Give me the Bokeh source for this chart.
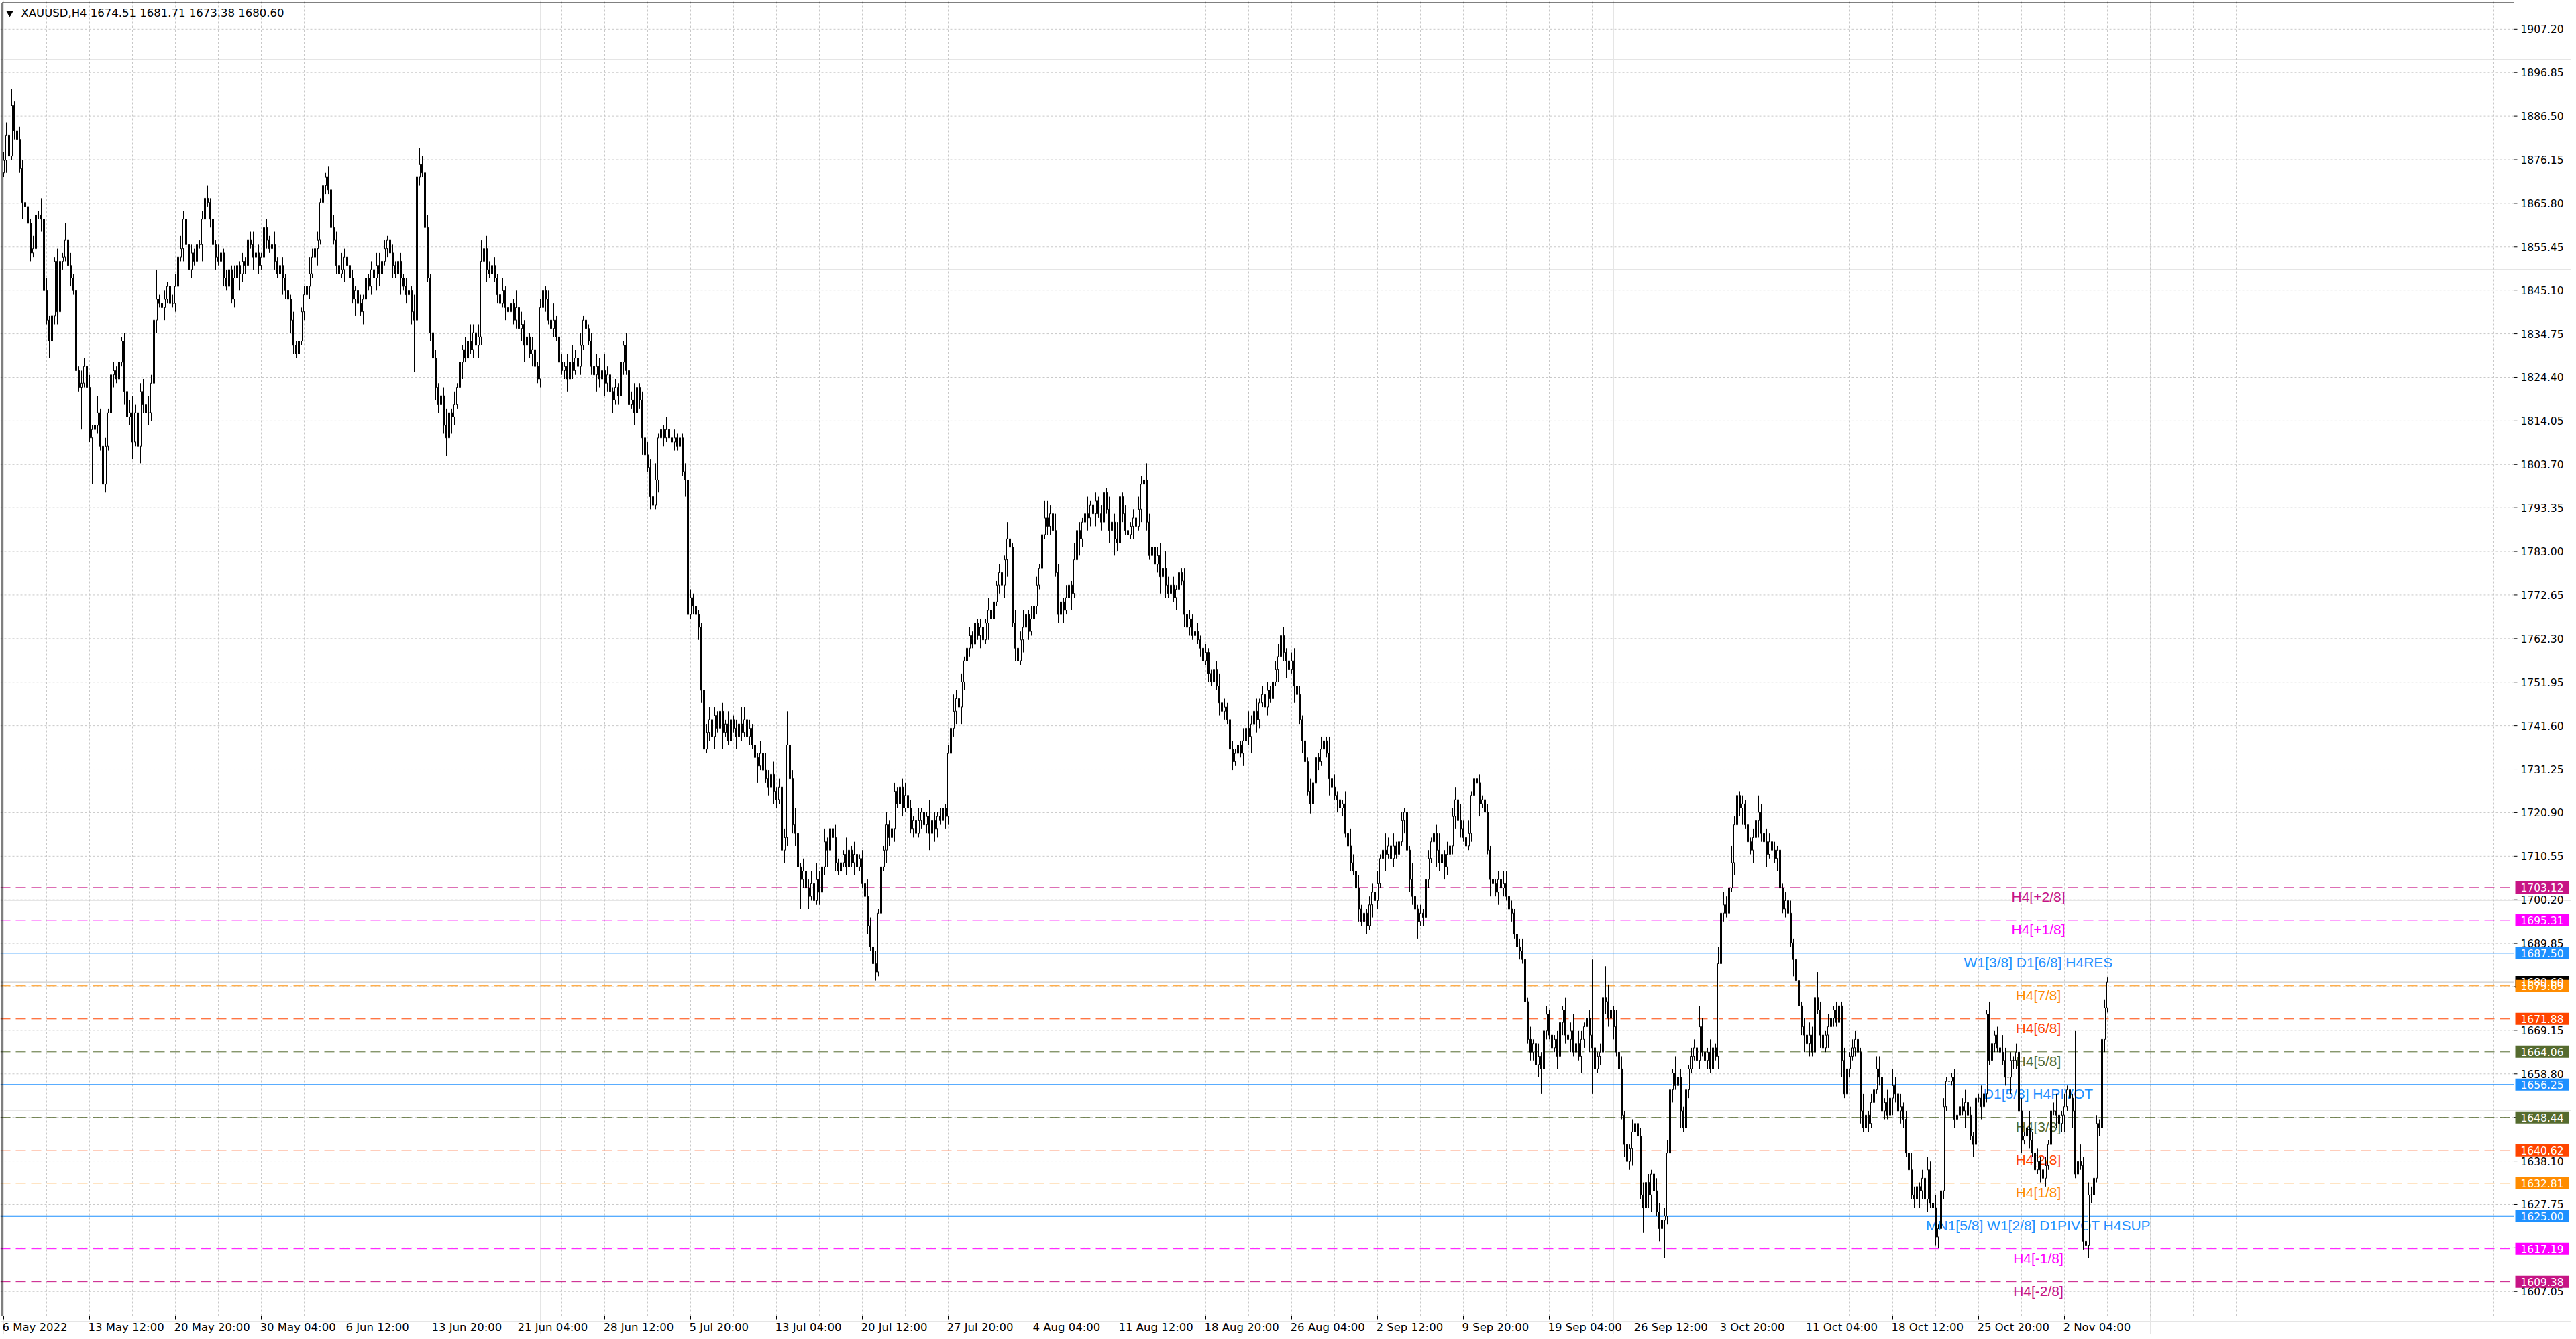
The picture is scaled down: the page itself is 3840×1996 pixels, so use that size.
from bokeh.plotting import figure
from bokeh.models import Range1d, ColumnDataSource
from bokeh.embed import file_html
from bokeh.resources import INLINE
from bokeh.core.properties import value

# ---------------- data ----------------
SYMBOL = "XAUUSD,H4"
FIRST_OPEN = 1873.0
CLOSE = [
    1876, 1882, 1877, 1889, 1883, 1881, 1874, 1866, 1865, 1861,
    1854, 1855, 1863, 1863, 1862, 1845, 1838, 1833, 1839, 1852,
    1840, 1852, 1853, 1857, 1851, 1848, 1845, 1826, 1822, 1823,
    1827, 1822, 1810, 1812, 1813, 1816, 1808, 1799, 1808, 1816,
    1825, 1826, 1824, 1828, 1833, 1821, 1815, 1816, 1809, 1816,
    1808, 1821, 1818, 1816, 1816, 1823, 1838, 1843, 1842, 1841,
    1843, 1846, 1842, 1842, 1846, 1853, 1855, 1862, 1856, 1850,
    1854, 1852, 1856, 1856, 1862, 1867, 1866, 1862, 1856, 1853,
    1852, 1854, 1848, 1846, 1850, 1843, 1848, 1851, 1849, 1852,
    1851, 1857, 1856, 1853, 1854, 1851, 1853, 1860, 1857, 1855,
    1856, 1852, 1849, 1851, 1848, 1845, 1843, 1838, 1832, 1830,
    1833, 1840, 1844, 1846, 1849, 1853, 1855, 1857, 1866, 1870,
    1872, 1869, 1860, 1857, 1851, 1849, 1850, 1853, 1851, 1848,
    1843, 1845, 1842, 1840, 1843, 1848, 1846, 1850, 1848, 1851,
    1849, 1852, 1855, 1857, 1854, 1851, 1849, 1852, 1848, 1846,
    1844, 1845, 1840, 1838, 1872, 1875, 1873, 1860, 1848, 1835,
    1829, 1822, 1818, 1820, 1813, 1810, 1816, 1815, 1818, 1822,
    1828, 1831, 1829, 1833, 1831, 1835, 1832, 1834, 1852, 1855,
    1850, 1849, 1851, 1848, 1844, 1842, 1845, 1841, 1840, 1842,
    1838, 1841, 1836, 1837, 1832, 1834, 1830, 1831, 1827, 1824,
    1841, 1845, 1843, 1838, 1836, 1838, 1834, 1828, 1826, 1827,
    1824, 1828, 1826, 1829, 1827, 1832, 1838, 1836, 1833, 1827,
    1825, 1827, 1824, 1826, 1823, 1825, 1821, 1819, 1822, 1820,
    1828, 1832, 1826, 1818, 1819, 1816, 1822, 1819, 1810, 1806,
    1803, 1796, 1794, 1800, 1810, 1812, 1810, 1812, 1810, 1809,
    1810, 1808, 1810, 1802, 1800, 1768, 1772, 1770, 1768, 1765,
    1750, 1736, 1740, 1743, 1739, 1744, 1741, 1745, 1740, 1742,
    1738, 1743, 1741, 1739, 1742, 1740, 1743, 1739, 1741, 1737,
    1734, 1732, 1735, 1731, 1729, 1727, 1730, 1726, 1724, 1727,
    1712, 1715, 1737, 1729, 1718, 1716, 1708, 1705, 1707, 1703,
    1701, 1704, 1700, 1705, 1702, 1708, 1714, 1712, 1717, 1715,
    1709, 1707, 1709, 1711, 1708, 1712, 1709, 1711, 1708, 1710,
    1704, 1701, 1694, 1689, 1685, 1683, 1697, 1708, 1712, 1718,
    1715, 1717, 1726, 1723, 1727, 1722, 1725, 1722, 1717, 1719,
    1716, 1719, 1721, 1718, 1720, 1716, 1719, 1717, 1720, 1719,
    1722, 1720, 1735, 1741, 1745, 1748, 1746, 1752, 1757, 1760,
    1763, 1761, 1766, 1763, 1765, 1762, 1766, 1769, 1767, 1771,
    1775, 1778, 1775, 1781, 1786, 1784, 1766, 1760, 1757, 1762,
    1765, 1768, 1764, 1767, 1770, 1775, 1779, 1787, 1791, 1789,
    1792, 1788, 1778, 1768, 1771, 1769, 1772, 1775, 1773, 1781,
    1788, 1786, 1790, 1792, 1791, 1794, 1792, 1795, 1792, 1790,
    1797, 1793, 1788, 1790, 1786, 1785, 1796, 1792, 1788, 1787,
    1789, 1791, 1789, 1793, 1799, 1800, 1790, 1782, 1784, 1780,
    1782, 1777, 1779, 1775, 1773, 1775, 1772, 1774, 1778, 1776,
    1768, 1765, 1767, 1763, 1764, 1762, 1760, 1757, 1759, 1754,
    1752, 1755, 1751, 1747, 1745, 1746, 1743, 1736, 1733, 1735,
    1737, 1735, 1738, 1741, 1739, 1742, 1745, 1743, 1747, 1749,
    1746, 1750, 1748, 1752, 1755, 1758, 1763, 1759, 1757, 1755,
    1757, 1751, 1749, 1743, 1738, 1733, 1726, 1723, 1728, 1734,
    1733, 1736, 1738, 1735, 1729, 1727, 1725, 1724, 1722, 1723,
    1716, 1713, 1709, 1707, 1703, 1698, 1695, 1697, 1694, 1699,
    1702, 1700, 1704, 1710, 1712, 1711, 1713, 1710, 1713, 1711,
    1714, 1719, 1721, 1712, 1705, 1701, 1698, 1695, 1697, 1696,
    1705, 1710, 1714, 1716, 1712, 1709, 1711, 1708, 1711, 1713,
    1720, 1724, 1719, 1717, 1715, 1713, 1716, 1725, 1729, 1728,
    1723, 1724, 1721, 1712, 1705, 1704, 1702, 1705, 1703, 1704,
    1701, 1698, 1697, 1692, 1689, 1688, 1686, 1676, 1667, 1664,
    1666, 1661, 1663, 1660, 1669, 1673, 1668, 1665, 1667, 1663,
    1671, 1674, 1668, 1667, 1669, 1664, 1666, 1663, 1667, 1670,
    1672, 1668, 1665, 1660, 1663, 1664, 1677, 1676, 1672, 1674,
    1670, 1664, 1660, 1649, 1642, 1638, 1641, 1645, 1647, 1644,
    1630, 1627, 1633, 1630, 1635, 1631, 1626, 1622, 1624, 1625,
    1640, 1655, 1659, 1656, 1658, 1650, 1646, 1655, 1660, 1663,
    1665, 1662, 1670, 1664, 1662, 1664, 1660, 1665, 1663, 1685,
    1697, 1699, 1697, 1703, 1709, 1718, 1725, 1722, 1723, 1718,
    1714, 1712, 1715, 1719, 1721, 1716, 1714, 1711, 1714, 1712,
    1710, 1712, 1703, 1698, 1700, 1697, 1690, 1686, 1681, 1675,
    1670, 1668, 1666, 1668, 1664, 1677, 1674, 1668, 1665, 1668,
    1670, 1672, 1674, 1671, 1675, 1662, 1654, 1660, 1663, 1665,
    1667, 1664, 1650, 1646, 1649, 1647, 1652, 1655, 1660, 1658,
    1650, 1652, 1649, 1653, 1656, 1654, 1650, 1651, 1648, 1640,
    1636, 1630, 1629, 1632, 1631, 1634, 1629, 1636, 1628, 1627,
    1620, 1622, 1631, 1651, 1657, 1657, 1658, 1648, 1649, 1651,
    1650, 1652, 1649, 1644, 1642, 1653, 1653, 1651, 1654, 1673,
    1662, 1666, 1668, 1665, 1664, 1662, 1658, 1658, 1662, 1662,
    1664, 1650, 1643, 1644, 1646, 1643, 1640, 1636, 1638, 1636,
    1634, 1637, 1642, 1650, 1650, 1649, 1647, 1649, 1651, 1655,
    1653, 1650, 1635, 1638, 1637, 1619, 1618, 1630, 1630, 1634,
    1647, 1646, 1667, 1674.51, 1680.60,
]
# wick lengths in dollars, one digit per bar
UPPER_WICK = (
    "2312143212 1321423121 3214231213 2131241321 4213121342 1231421312 2142313214 2131243121 3212413212 1423121321 "
    "2314213121 3121423213 1213214231 2142131213 3121421321 2314212131 1213242131 2131421312 3212143121 1423121321 "
    "2312141321 3142131212 1321423121 2131243121 3214121312 2131242131 1423121321 3212143121 2131421312 1213242131 "
    "2314213121 3121421321 2142131213 1321423121 2312143212 3121423213 2131241321 1231421312 4213121342 2142313214 "
    "3212413212 2131243121 1213214231 2314212131 3121421321 1423121321 2131421312 3214231213 2312141321 1321423121 "
    "3142131212 2131242131 3212143121 1213242131 2314213121 2142131213 3121423213 1231421312 2131241321 4213121342 "
    "1423121321 2312143212 3214121312 2142313214 1321423121 3121421321 2131243121 1213214231 3212413212 2314212131 "
    "2131421312 1423121321 3142131212 2312141321 3212143121 2131242131 1213242131 3121421321 2142131213 1321423121"
)
LOWER_WICK = (
    "1321231421 2131321412 3121421312 1213421321 2312131241 1421321312 3121241321 2131421213 1321312142 2413121321 "
    "1213421321 3121312412 2131241321 1421321213 3212131241 2131421312 1321231421 2413121321 3121241321 1213421321 "
    "2131321412 3121421312 1421321312 2312131241 1321312142 2131421213 3212131241 1213421321 2413121321 1321231421 "
    "3121312412 2131241321 1421321213 2131421312 3121241321 1321231421 2131321412 1213421321 3121421312 2312131241 "
    "1421321312 2131421213 1321312142 2413121321 3121312412 1213421321 2131241321 3212131241 1421321213 2131421312 "
    "1321231421 3121241321 2131321412 1213421321 2312131241 3121421312 1421321312 2131421213 1321312142 2413121321 "
    "3121312412 1213421321 2131241321 1421321213 3212131241 2131421312 1321231421 2413121321 3121241321 2131321412 "
    "1213421321 3121421312 2312131241 1421321312 1321312142 2131421213 3212131241 2413121321 1213421321 3121312412"
)
HIGH_OVERRIDE = {2: 1890, 3: 1893, 57: 1850, 121: 1874.5, 155: 1879, 178: 1857, 292: 1745,
                 334: 1739.5, 375: 1788, 389: 1795, 410: 1807, 425: 1802, 476: 1765.5,
                 548: 1735, 592: 1686, 597: 1684.4, 632: 1675, 646: 1729.5, 676: 1683,
                 699: 1663, 725: 1670.7, 739: 1674, 772: 1669, 784: 1681.71}
LOW_OVERRIDE = {29: 1812, 33: 1799, 37: 1787, 153: 1825.6, 165: 1805.8, 242: 1785, 297: 1698,
                325: 1681, 487: 1720.7, 507: 1688.7, 527: 1691, 573: 1654, 592: 1654,
                611: 1621, 619: 1615, 694: 1640.6, 721: 1617.4, 776: 1616.5, 784: 1673.38}
LAST_OPEN = 1674.51

PRICE_TICKS = [1907.20, 1896.85, 1886.50, 1876.15, 1865.80, 1855.45, 1845.10, 1834.75, 1824.40,
               1814.05, 1803.70, 1793.35, 1783.00, 1772.65, 1762.30, 1751.95, 1741.60, 1731.25,
               1720.90, 1710.55, 1700.20, 1689.85, 1679.50, 1669.15, 1658.80, 1648.45, 1638.10,
               1627.75, 1617.40, 1607.05]
TIME_TICK_BARS = [0, 32, 64, 96, 128, 160, 192, 224, 256, 288, 320, 352, 384, 416, 448, 480,
                  512, 544, 576, 608, 640, 672, 704, 736, 768]
TIME_TICK_LABELS = ["6 May 2022", "13 May 12:00", "20 May 20:00", "30 May 04:00", "6 Jun 12:00",
                    "13 Jun 20:00", "21 Jun 04:00", "28 Jun 12:00", "5 Jul 20:00", "13 Jul 04:00",
                    "20 Jul 12:00", "27 Jul 20:00", "4 Aug 04:00", "11 Aug 12:00", "18 Aug 20:00",
                    "26 Aug 04:00", "2 Sep 12:00", "9 Sep 20:00", "19 Sep 04:00", "26 Sep 12:00",
                    "3 Oct 20:00", "11 Oct 04:00", "18 Oct 12:00", "25 Oct 20:00", "2 Nov 04:00"]

LEVEL_PRICES = [1703.12, 1695.31, 1687.50, 1679.69, 1671.88, 1664.06, 1656.25, 1648.44,
                1640.62, 1632.81, 1625.00, 1617.19, 1609.38]
LEVEL_NAMES = ["H4[+2/8]", "H4[+1/8]", "W1[3/8] D1[6/8] H4RES", "H4[7/8]", "H4[6/8]", "H4[5/8]",
               "D1[5/8] H4PIVOT", "H4[3/8]", "H4[2/8]", "H4[1/8]",
               "MN1[5/8] W1[2/8] D1PIVOT H4SUP", "H4[-1/8]", "H4[-2/8]"]
LEVEL_COLORS = ["#C71585", "#FF00FF", "#1E90FF", "#FF8C00", "#FF4500", "#556B2F", "#1E90FF",
                "#556B2F", "#FF4500", "#FF8C00", "#1E90FF", "#FF00FF", "#C71585"]
LEVEL_SOLID = [False, False, True, False, False, False, True, False, False, False, True, False, False]
LEVEL_WIDTH = [1, 1, 1, 1, 1, 1, 1, 1, 1, 1, 2, 1, 1]

# ---------------- layout ----------------
W, H = 3832, 1988
PX_PER_BAR = 4.0
PX_PER_USD = 6.27
X0 = -1.25
X1 = X0 + W / PX_PER_BAR
Y1 = 1914.03
Y0 = Y1 - H / PX_PER_USD
AXIS_X = 935.5          # right price scale border (bar units)
AXIS_Y = 1601.27        # bottom time scale border (price units)
LABEL_X = 758.25        # centre of level texts
TAG_X = 946.0
TICK_TEXT_X = 938.0

n = len(CLOSE)
up = [int(c) for c in UPPER_WICK.replace(" ", "")][:n]
dn = [int(c) for c in LOWER_WICK.replace(" ", "")][:n]
opens = [FIRST_OPEN] + CLOSE[:-1]
opens[-1] = LAST_OPEN
highs = [max(o, c) + u for o, c, u in zip(opens, CLOSE, up)]
lows = [min(o, c) - d for o, c, d in zip(opens, CLOSE, dn)]
for k, v in HIGH_OVERRIDE.items():
    highs[k] = v
for k, v in LOW_OVERRIDE.items():
    lows[k] = v
idx = list(range(n))

bull = [i for i in idx if CLOSE[i] >= opens[i]]
bear = [i for i in idx if CLOSE[i] < opens[i]]
src_bull = ColumnDataSource(dict(x=bull, top=[CLOSE[i] for i in bull], bottom=[opens[i] for i in bull]))
src_bear = ColumnDataSource(dict(x=bear, top=[opens[i] for i in bear], bottom=[CLOSE[i] for i in bear]))
src_wick = ColumnDataSource(dict(x=idx, hi=highs, lo=lows))

p = figure(width=W, height=H, x_range=Range1d(X0, X1), y_range=Range1d(Y0, Y1),
           output_backend="svg", toolbar_location=None, x_axis_location=None,
           y_axis_location=None, min_border=0)
p.outline_line_color = None
p.background_fill_color = "white"
p.border_fill_color = "white"

GRID = "#C8C8C8"
# horizontal grid
p.segment(x0=[X0] * len(PRICE_TICKS), y0=PRICE_TICKS, x1=[AXIS_X] * len(PRICE_TICKS), y1=PRICE_TICKS,
          line_color=GRID, line_dash="3 3", line_width=1)
# vertical grid
vg = list(range(16, int(AXIS_X), 16))
p.segment(x0=vg, y0=[AXIS_Y] * len(vg), x1=vg, y1=[Y1] * len(vg),
          line_color=GRID, line_dash="3 3", line_width=1)

# level lines
for pr, col, solid, lw in zip(LEVEL_PRICES, LEVEL_COLORS, LEVEL_SOLID, LEVEL_WIDTH):
    p.segment(x0=[X0], y0=[pr], x1=[AXIS_X], y1=[pr], line_color=col, line_width=lw,
              line_dash="solid" if solid else "15 8")

# level texts
p.text(x=[LABEL_X] * len(LEVEL_PRICES), y=LEVEL_PRICES, text=LEVEL_NAMES, text_color=LEVEL_COLORS,
       text_align="center", text_baseline="top", y_offset=2,
       text_font=value("Liberation Sans"), text_font_size="21px")

# bid line
p.segment(x0=[X0], y0=[CLOSE[-1]], x1=[AXIS_X], y1=[CLOSE[-1]], line_color="#C0C0C0", line_width=1)

# candles
p.segment(x0="x", y0="lo", x1="x", y1="hi", source=src_wick, line_color="black", line_width=1)
p.vbar(x="x", top="top", bottom="bottom", width=0.5, source=src_bull,
       fill_color="white", line_color="black", line_width=1)
p.vbar(x="x", top="top", bottom="bottom", width=0.5, source=src_bear,
       fill_color="black", line_color="black", line_width=1)

# frame borders
TOP_Y = Y1 - 3.5 / PX_PER_USD
LEFT_X = X0 + 2.5 / PX_PER_BAR
p.segment(x0=[LEFT_X, LEFT_X, AXIS_X, LEFT_X], y0=[TOP_Y, AXIS_Y, AXIS_Y, AXIS_Y],
          x1=[AXIS_X, LEFT_X, AXIS_X, AXIS_X], y1=[TOP_Y, TOP_Y, TOP_Y, AXIS_Y],
          line_color="black", line_width=1)

# right price scale
p.segment(x0=[AXIS_X] * len(PRICE_TICKS), y0=PRICE_TICKS, x1=[AXIS_X + 1.25] * len(PRICE_TICKS),
          y1=PRICE_TICKS, line_color="black", line_width=1)
p.text(x=[TICK_TEXT_X] * len(PRICE_TICKS), y=PRICE_TICKS, text=[f"{v:.2f}" for v in PRICE_TICKS],
       text_color="black", text_align="left", text_baseline="middle",
       text_font=value("DejaVu Sans"), text_font_size="15.5px")

# price tags
tag_prices = [CLOSE[-1]] + LEVEL_PRICES
tag_colors = ["black"] + LEVEL_COLORS
p.rect(x=[TAG_X] * len(tag_prices), y=tag_prices, width=80, height=18, width_units="screen",
       height_units="screen", fill_color=tag_colors, line_color=None)
p.text(x=[TICK_TEXT_X] * len(tag_prices), y=tag_prices, text=[f"{v:.2f}" for v in tag_prices],
       text_color="white", text_align="left", text_baseline="middle",
       text_font=value("DejaVu Sans"), text_font_size="15.5px")

# bottom time scale
p.segment(x0=TIME_TICK_BARS, y0=[AXIS_Y] * len(TIME_TICK_BARS), x1=TIME_TICK_BARS,
          y1=[AXIS_Y - 5 / PX_PER_USD] * len(TIME_TICK_BARS), line_color="black", line_width=1)
p.text(x=TIME_TICK_BARS, y=[AXIS_Y - 17 / PX_PER_USD] * len(TIME_TICK_BARS), x_offset=-2,
       text=TIME_TICK_LABELS, text_color="black", text_align="left", text_baseline="middle",
       text_font=value("DejaVu Sans"), text_font_size="16.5px")

# header
HEAD_Y = Y1 - 19 / PX_PER_USD
p.scatter(x=[X0 + 14 / PX_PER_BAR], y=[HEAD_Y], marker="inverted_triangle", size=9,
          fill_color="black", line_color="black")
header = f"{SYMBOL}  {LAST_OPEN:.2f} {highs[-1]:.2f} {lows[-1]:.2f} {CLOSE[-1]:.2f}"
p.text(x=[X0 + 31 / PX_PER_BAR], y=[HEAD_Y], text=[header], text_color="black",
       text_align="left", text_baseline="middle",
       text_font=value("DejaVu Sans"), text_font_size="16.5px")

open("out.html", "w").write(file_html(p, INLINE))
